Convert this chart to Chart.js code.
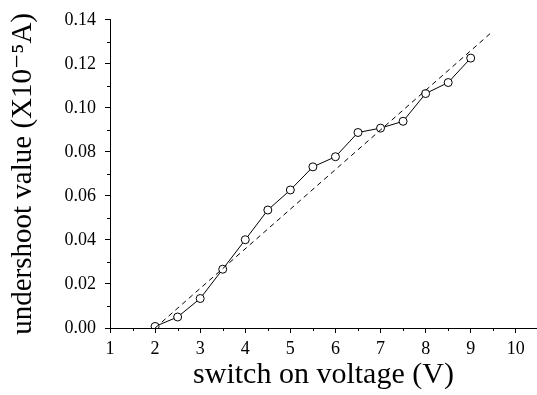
<!DOCTYPE html>
<html>
<head>
<meta charset="utf-8">
<script src="https://cdn.jsdelivr.net/npm/chart.js@4"></script>
<style>
  html, body { margin: 0; padding: 0; background: #fff; }
  #wrap { width: 537px; height: 395px; }
</style>
</head>
<body>
<div id="wrap"><canvas id="chart"></canvas></div>
<script>
const voltage = [2, 2.5, 3, 3.5, 4, 4.5, 5, 5.5, 6, 6.5, 7, 7.5, 8, 8.5, 9]
const undershoot = [0.0007, 0.005, 0.0134, 0.0267, 0.0401, 0.0536, 0.0627, 0.0732, 0.0778, 0.0888, 0.0908, 0.0939, 0.1065, 0.1115, 0.1226]

// straight fitted line (dashed)
const fitX = [2, 9.43]
const fitY = [0, 0.1337]

const xTicks = [1, 2, 3, 4, 5, 6, 7, 8, 9, 10]
const yTicks = [0, 0.02, 0.04, 0.06, 0.08, 0.10, 0.12, 0.14]
const xMinor = [1.5, 2.5, 3.5, 4.5, 5.5, 6.5, 7.5, 8.5, 9.5]
const yMinor = [0.01, 0.03, 0.05, 0.07, 0.09, 0.11, 0.13]

const font = "'Liberation Serif', 'DejaVu Serif', serif"

// small outward minor ticks, placed through the scales
const minorTicks = {
  id: "minorTicks",
  afterDraw(chart) {
    const ctx = chart.ctx
    const xs = chart.scales.x
    const ys = chart.scales.y
    ctx.save()
    ctx.strokeStyle = "#000"
    ctx.lineWidth = 1
    ctx.beginPath()
    xMinor.forEach((v) => {
      const px = Math.round(xs.getPixelForValue(v)) + 0.5
      ctx.moveTo(px, ys.bottom)
      ctx.lineTo(px, ys.bottom + 3)
    })
    yMinor.forEach((v) => {
      const py = Math.round(ys.getPixelForValue(v)) + 0.5
      ctx.moveTo(xs.left, py)
      ctx.lineTo(xs.left - 3, py)
    })
    ctx.stroke()
    ctx.restore()
  },
}

new Chart(document.getElementById("chart"), {
  type: "scatter",
  data: {
    datasets: [
      {
        label: "fit",
        data: fitX.map((x, i) => ({ x: x, y: fitY[i] })),
        showLine: true,
        borderColor: "#000",
        borderWidth: 1,
        borderDash: [5, 4],
        pointRadius: 0,
      },
      {
        label: "undershoot",
        data: voltage.map((x, i) => ({ x: x, y: undershoot[i] })),
        showLine: true,
        borderColor: "#000",
        borderWidth: 1,
        pointRadius: 4,
        pointBackgroundColor: "#fff",
        pointBorderColor: "#000",
        pointBorderWidth: 1,
      },
    ],
  },
  options: {
    responsive: true,
    maintainAspectRatio: false,
    animation: false,
    layout: { autoPadding: false, padding: { top: 19, right: 0, left: 0, bottom: 0 } },
    plugins: {
      legend: { display: false },
      tooltip: { enabled: false },
    },
    scales: {
      x: {
        type: "linear",
        min: 1,
        max: 10.47,
        afterBuildTicks: (s) => { s.ticks = xTicks.map((v) => ({ value: v })) },
        afterFit: (s) => { s.height = 67 },
        border: { color: "#000", width: 1 },
        grid: { drawOnChartArea: false, color: "#000", tickLength: 5 },
        ticks: {
          color: "#000",
          padding: 5,
          font: { family: font, size: 18 },
          maxRotation: 0,
          callback: (v) => String(v),
        },
        title: {
          display: true,
          text: "switch on voltage (V)",
          color: "#000",
          font: { family: font, size: 30 },
          padding: { top: 0, bottom: 2 },
        },
      },
      y: {
        min: 0,
        max: 0.14,
        afterBuildTicks: (s) => { s.ticks = yTicks.map((v) => ({ value: v })) },
        afterFit: (s) => { s.width = 110 },
        border: { color: "#000", width: 1 },
        grid: { drawOnChartArea: false, color: "#000", tickLength: 5 },
        ticks: {
          color: "#000",
          padding: 9,
          font: { family: font, size: 18 },
          callback: (v) => v.toFixed(2),
        },
        title: {
          display: true,
          text: "undershoot value (X10⁻⁵A)",
          color: "#000",
          font: { family: font, size: 29 },
          padding: { top: 6, bottom: 0 },
        },
      },
    },
  },
  plugins: [minorTicks],
})
</script>
</body>
</html>
